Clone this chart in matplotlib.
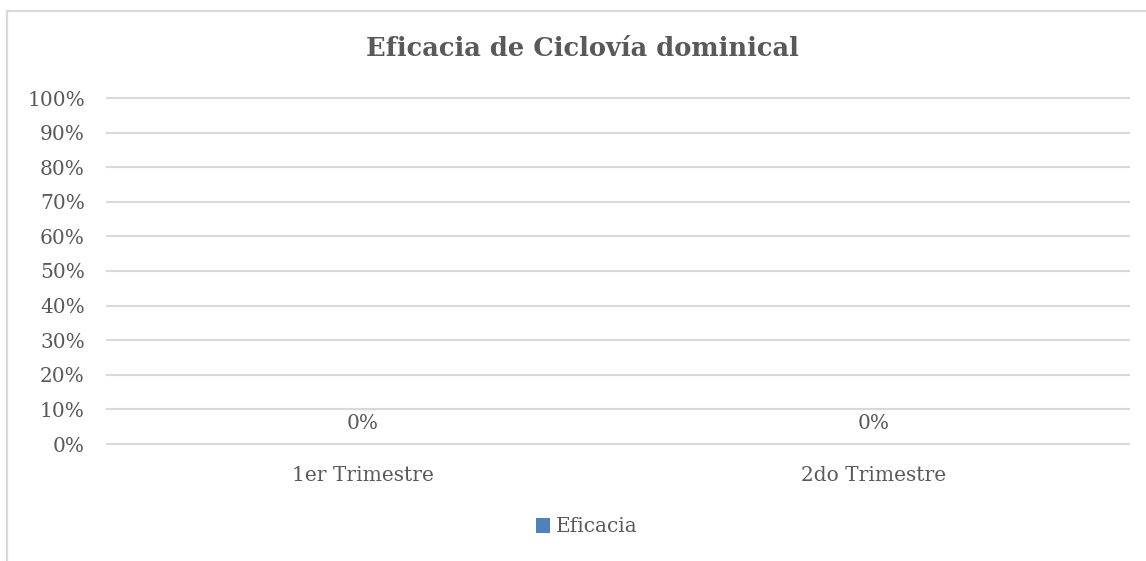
import matplotlib
matplotlib.use("Agg")
import matplotlib.pyplot as plt
from matplotlib.patches import Rectangle
from matplotlib.ticker import PercentFormatter

# data
categorias = ["1er Trimestre", "2do Trimestre"]
eficacia = [0.0, 0.0]
serie = "Eficacia"
titulo = "Eficacia de Ciclovía dominical"

gris_texto = "#595959"
gris_linea = "#D9D9D9"
azul = "#4F81BD"

plt.rcParams['font.family'] = ['DejaVu Serif']

W, H = 1146, 561
fig = plt.figure(figsize=(W / 100, H / 100), dpi=100)

# chart area border (only left and top visible in the reference)
fig.patches.append(Rectangle((7 / W, -0.2), 1.5, 1 - 11 / H + 0.2,
                             transform=fig.transFigure, fill=False,
                             edgecolor=gris_linea, linewidth=1.6))

ax = fig.add_axes([107 / W, 1 - 444 / H, (1129 - 107) / W, (444 - 98) / H])

x = range(len(categorias))
bars = ax.bar(x, eficacia, width=0.5, color=azul, label=serie)
ax.bar_label(bars, labels=[f"{v:.0%}" for v in eficacia], padding=8,
             fontsize=14.5, color=gris_texto)

ax.set_xlim(-0.5, len(categorias) - 0.5)
ax.set_ylim(0, 1)
ax.set_yticks([i / 10 for i in range(11)])
ax.yaxis.set_major_formatter(PercentFormatter(1.0, decimals=0))
ax.set_xticks(list(x))
ax.set_xticklabels(categorias)

ax.grid(axis='y', color=gris_linea, linewidth=1.5)
for gl in ax.get_ygridlines():
    gl.set_clip_on(False)
ax.set_axisbelow(True)
for s in ax.spines.values():
    s.set_visible(False)
ax.tick_params(axis='both', length=0, labelsize=14.5, colors=gris_texto)
ax.tick_params(axis='y', pad=16)
ax.tick_params(axis='x', pad=16)

fig.text(582 / W, 1 - 48 / H, titulo, ha='center', va='center',
         fontsize=18.5, fontweight='bold', color=gris_texto)

leg = fig.legend(loc='center', bbox_to_anchor=(587 / W, 1 - 527 / H),
                 frameon=False, fontsize=14.5, handlelength=0.7,
                 handleheight=0.7, handletextpad=0.3)
for t in leg.get_texts():
    t.set_color(gris_texto)

fig.savefig("out.png", dpi=100, facecolor="white")
